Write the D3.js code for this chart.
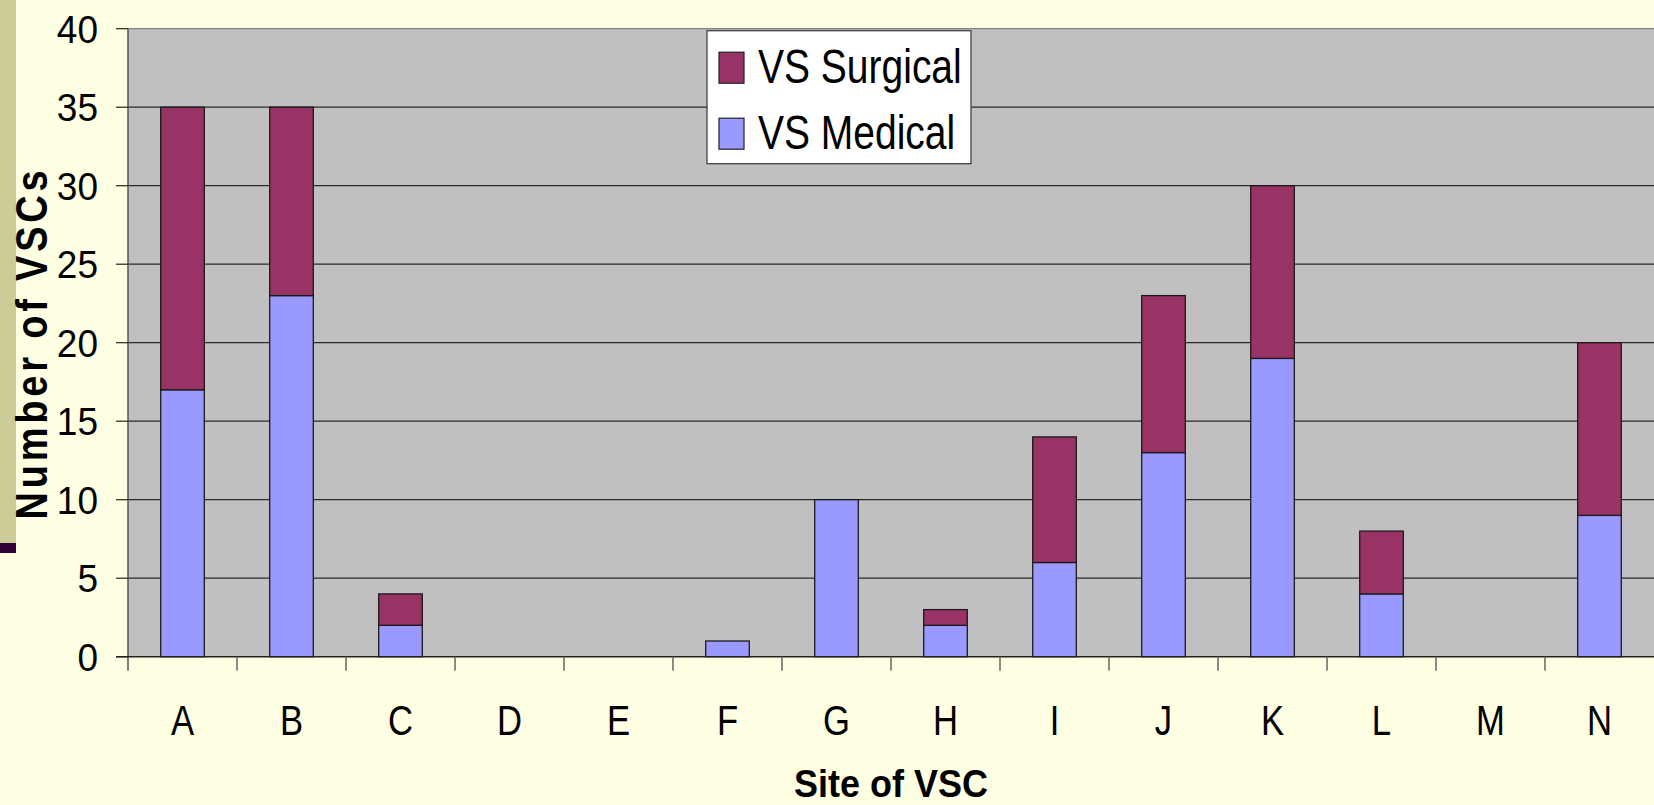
<!DOCTYPE html>
<html lang="en">
<head>
<meta charset="utf-8">
<title>Site of VSC</title>
<script type="text/javascript" src="https://cdnjs.cloudflare.com/ajax/libs/d3/7.8.5/d3.min.js"></script>
<style>
body { margin: 0; background-color: #FFFFE3; overflow: hidden; }
text { font-family: "Liberation Sans", Arial, sans-serif; fill: #000; }
.grid line { stroke: #2a2a2a; stroke-width: 1.2; }
.bar { stroke: #1a1a1a; stroke-width: 1.3; }
</style>
</head>
<body>

<div id="chart"></div>

<script type="text/javascript">

var sites = ["A","B","C","D","E","F","G","H","I","J","K","L","M","N"];
var medical  = [17, 23, 2, 0, 0, 1, 10, 2, 6, 13, 19, 4, 0, 9];
var surgical = [18, 12, 2, 0, 0, 0, 0, 1, 8, 10, 11, 4, 0, 11];
var yTicks = [0, 5, 10, 15, 20, 25, 30, 35, 40];

var seriesNames = ["VS Surgical", "VS Medical"];
var seriesColors = {"VS Surgical": "#993366", "VS Medical": "#9999FF"};

var width = 1654, height = 805;
var margin = {top: 28.7, right: 0, bottom: 148.3, left: 128};

var svg = d3.select("#chart").append("svg")
    .attr("width", width)
    .attr("height", height);

// slide decoration on the left
svg.append("rect").attr("x", 0).attr("y", 0).attr("width", 16).attr("height", 543).attr("fill", "#CCCC99");
svg.append("rect").attr("x", 0).attr("y", 543).attr("width", 16).attr("height", 10).attr("fill", "#330033");

var plotW = width - margin.left - margin.right,
    plotH = height - margin.top - margin.bottom;

var root = svg.append("g")
    .attr("transform", "translate(" + margin.left + "," + margin.top + ")");

var x = d3.scaleBand().domain(sites).range([0, plotW]).paddingInner(0.6).paddingOuter(0.3);
var xCat = d3.scaleBand().domain(sites).range([0, plotW]);
var y = d3.scaleLinear().domain([0, 40]).range([plotH, 0]);

root.append("rect")
    .attr("width", plotW)
    .attr("height", plotH)
    .attr("fill", "#C0C0C0");

// gridlines
root.append("g").attr("class", "grid")
    .selectAll("line")
    .data(yTicks.filter(d => d > 0))
    .enter().append("line")
        .attr("x1", 0).attr("x2", plotW)
        .attr("y1", d => y(d)).attr("y2", d => y(d))
        .style("stroke", d => d == 40 ? "#808080" : null);

// stacked bars
var stackData = sites.map((s, i) => ({site: s, "VS Medical": medical[i], "VS Surgical": surgical[i]}));
var stack = d3.stack().keys(["VS Medical", "VS Surgical"])(stackData);

root.append("g").selectAll("g")
    .data(stack)
    .enter().append("g")
        .attr("fill", d => seriesColors[d.key])
        .selectAll("rect")
        .data(d => d.filter(v => v[1] - v[0] > 0))
        .enter().append("rect")
            .attr("class", "bar")
            .attr("x", d => x(d.data.site))
            .attr("width", x.bandwidth())
            .attr("y", d => y(d[1]))
            .attr("height", d => y(d[0]) - y(d[1]));

// y axis
var yAxis = root.append("g");
yAxis.append("line")
    .attr("x1", 0).attr("x2", 0)
    .attr("y1", 0).attr("y2", plotH + 14)
    .attr("stroke", "#555").attr("stroke-width", 1.5);
yAxis.selectAll(".tick")
    .data(yTicks)
    .enter().append("line")
        .attr("x1", -12).attr("x2", 0)
        .attr("y1", d => y(d)).attr("y2", d => y(d))
        .attr("stroke", "#222").attr("stroke-width", 1.2);
yAxis.selectAll(".ylabel")
    .data(yTicks)
    .enter().append("text")
        .attr("transform", d => "translate(-30," + y(d) + ") scale(1,1.06)")
        .attr("dy", "0.36em")
        .style("text-anchor", "end")
        .style("font-size", "37px")
        .text(d => d);

// x axis
var xAxis = root.append("g").attr("transform", "translate(0," + plotH + ")");
xAxis.append("line")
    .attr("x1", -12).attr("x2", plotW)
    .attr("stroke", "#222").attr("stroke-width", 1.5);
xAxis.selectAll(".xtick")
    .data(sites.slice(1))
    .enter().append("line")
        .attr("x1", d => xCat(d)).attr("x2", d => xCat(d))
        .attr("y1", 0).attr("y2", 14)
        .attr("stroke", "#666").attr("stroke-width", 1.5);
xAxis.selectAll(".xlabel")
    .data(sites)
    .enter().append("text")
        .attr("transform", d => "translate(" + (xCat(d) + xCat.bandwidth() / 2) + ",78) scale(1.05,1.3)")
        .style("text-anchor", "middle")
        .style("font-size", "33px")
        .text(d => d);

// axis titles
svg.append("text")
    .attr("transform", "translate(" + (margin.left + plotW / 2) + ",797) scale(1,1.1)")
    .style("text-anchor", "middle")
    .style("font-size", "36px")
    .style("font-weight", "bold")
    .text("Site of VSC");

svg.append("text")
    .attr("transform", "translate(47,343) rotate(-90) scale(1,1.18)")
    .style("text-anchor", "middle")
    .style("font-size", "38px")
    .style("font-weight", "bold")
    .style("letter-spacing", "3.8px")
    .text("Number of VSCs");

// legend
var legend = svg.append("g").attr("transform", "translate(707,30.7)");
legend.append("rect")
    .attr("width", 264).attr("height", 133)
    .attr("fill", "#fff").attr("stroke", "#444").attr("stroke-width", 1.3);
var item = legend.selectAll(".item")
    .data(seriesNames)
    .enter().append("g")
        .attr("transform", (d, i) => "translate(0," + (i * 66) + ")");
item.append("rect")
    .attr("x", 12).attr("y", 21.5)
    .attr("width", 25).attr("height", 31)
    .attr("fill", d => seriesColors[d])
    .attr("stroke", "#222").attr("stroke-width", 1.2);
item.append("text")
    .attr("transform", "translate(51,52) scale(1,1.24)")
    .style("font-size", "39px")
    .text(d => d);

</script>

</body>
</html>
